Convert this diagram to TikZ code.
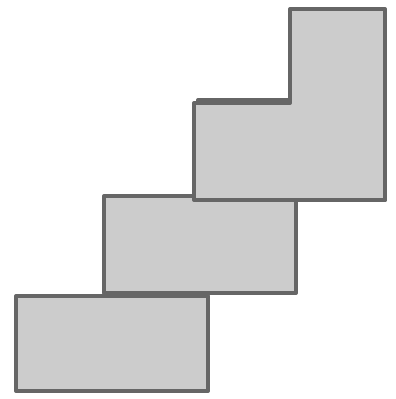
\documentclass[tikz,border=0pt]{standalone}
\usepackage{tikz}
\definecolor{blockfill}{RGB}{204, 204, 204}
\definecolor{blockedge}{RGB}{102, 102, 102}
\tikzset{
  stairblock/.style = {
    fill=blockfill, draw=blockedge, line width=4pt,
    line join=round
  },
}

\begin{document}
\begin{tikzpicture}[x=1pt, y=-1pt]
  \useasboundingbox (0,0) rectangle (396,399);

  %% bottom step
  \draw[stairblock] (16,296) rectangle (208,391);
  %% second step
  \draw[stairblock] (104,196) rectangle (296,293);
  %% upper part
  \draw[stairblock] (198,100) rectangle (385,200);
  \draw[stairblock] (290,9) -- (385,9) -- (385,200) -- (194,200)
    -- (194,103) -- (290,103) -- cycle;

\end{tikzpicture}
\end{document}
